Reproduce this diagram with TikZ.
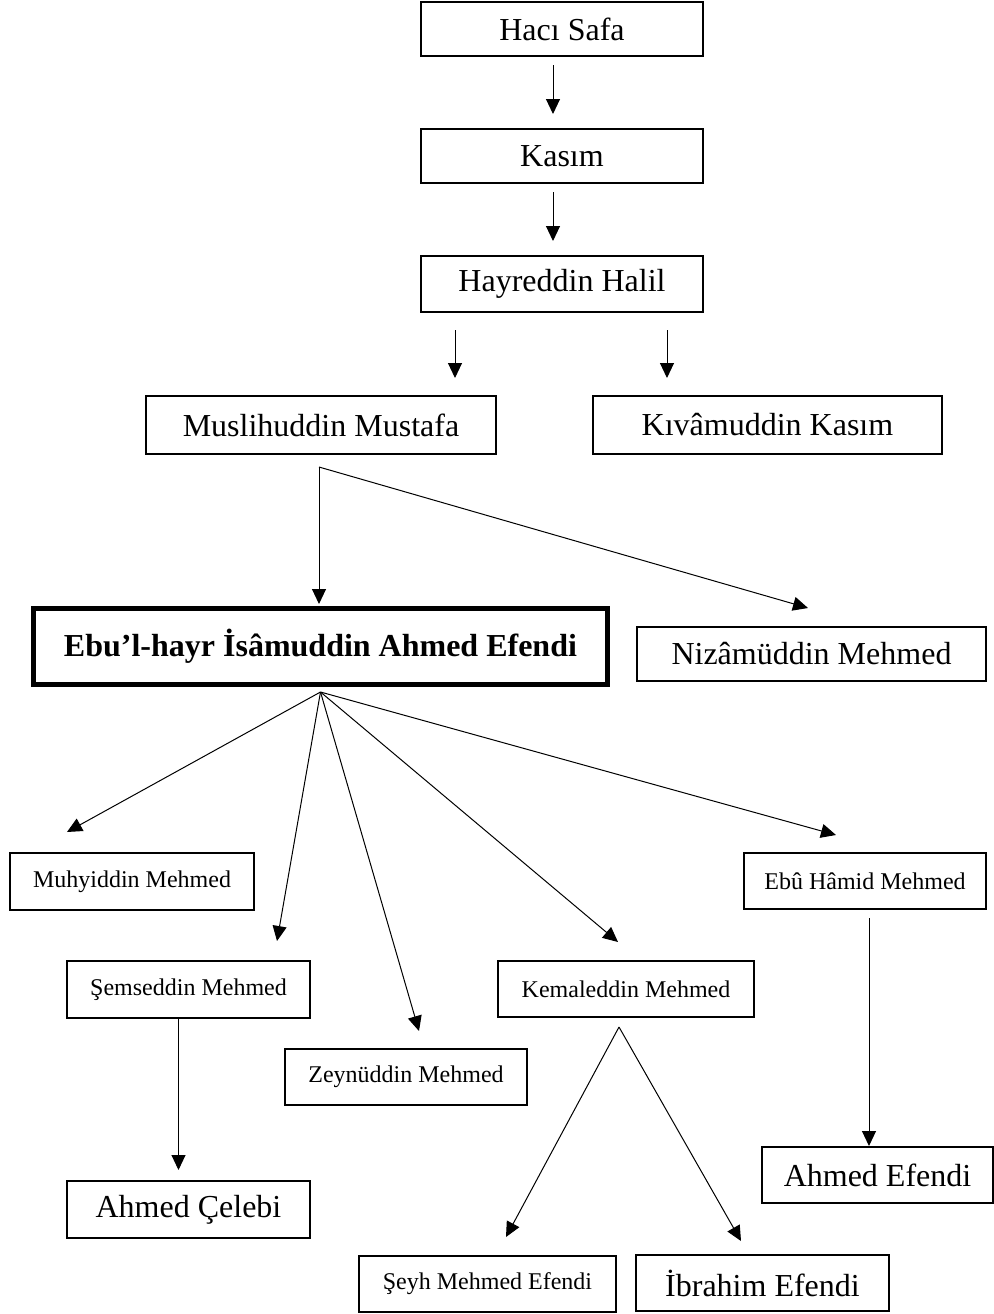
\documentclass[tikz,border=0pt]{standalone}
\usepackage{fontspec}
\setmainfont{Liberation Serif}
\usetikzlibrary{arrows.meta}
\newcommand{\buyuk}{\fontsize{16pt}{19pt}\selectfont}
\newcommand{\kucuk}{\fontsize{12pt}{14pt}\selectfont}

\begin{document}
\begin{tikzpicture}[x=0.5pt,y=-0.5pt,
  kutu/.style={draw,line width=1pt,inner sep=0pt,align=center},
  ok/.style={line width=0.5pt,-{Triangle[length=7.5pt,width=7pt]}}]
\useasboundingbox (0,0) rectangle (994,1314);
%draw the top line of boxes
\node[kutu,font=\buyuk,minimum width=141pt,minimum height=27pt] (hac) at (562,29) {Hacı Safa};
\node[kutu,font=\buyuk,minimum width=141pt,minimum height=27pt] (kas) at (562,156) {Kasım};
\node[kutu,font=\buyuk,minimum width=141pt,minimum height=28pt] (hay) at (562,284) {Hayreddin Halil};
\node[kutu,font=\buyuk,minimum width=175pt,minimum height=29pt] (mus) at (321,425) {Muslihuddin Mustafa};
\node[kutu,font=\buyuk,minimum width=174.5pt,minimum height=29pt] (kiv) at (767.5,425) {Kıvâmuddin Kasım};
%the main person, thick border
\node[kutu,line width=2.5pt,font=\buyuk\bfseries,minimum width=287pt,minimum height=38pt] (ebu) at (320.5,646.5) {Ebu’l-hayr İsâmuddin Ahmed Efendi};
\node[kutu,font=\buyuk,minimum width=174.5pt,minimum height=27pt] (niz) at (811.5,654) {Nizâmüddin Mehmed};
%sons
\node[kutu,font=\kucuk,minimum width=122pt,minimum height=28.5pt] (muh) at (132,881.5) {Muhyiddin Mehmed};
\node[kutu,font=\kucuk,minimum width=121pt,minimum height=28pt] (ebh) at (865,881) {Ebû Hâmid Mehmed};
\node[kutu,font=\kucuk,minimum width=121.5pt,minimum height=28.5pt] (sem) at (188.5,989.5) {Şemseddin Mehmed};
\node[kutu,font=\kucuk,minimum width=128pt,minimum height=28pt] (kem) at (626,989) {Kemaleddin Mehmed};
\node[kutu,font=\kucuk,minimum width=121pt,minimum height=28pt] (zey) at (406,1077) {Zeynüddin Mehmed};
%grandsons
\node[kutu,font=\buyuk,minimum width=121.5pt,minimum height=28.5pt] (cel) at (188.5,1209.5) {Ahmed Çelebi};
\node[kutu,font=\buyuk,minimum width=115.5pt,minimum height=28pt] (ahe) at (877.5,1175) {Ahmed Efendi};
\node[kutu,font=\kucuk,minimum width=128.5pt,minimum height=28pt] (sey) at (487.5,1284) {Şeyh Mehmed Efendi};
\node[kutu,font=\buyuk,minimum width=126.5pt,minimum height=28pt] (ibr) at (762.5,1283) {İbrahim Efendi};
%fork points
\coordinate (musfork) at ([xshift=-1pt,yshift=-6pt]mus.south);
\coordinate (ebufork) at ([yshift=-2.5pt]ebu.south);
\coordinate (kemfork) at ([xshift=-3.5pt,yshift=-4.5pt]kem.south);
%arrows
\draw[ok] ([xshift=-4.5pt,yshift=-4pt]hac.south) -- ([xshift=-4.5pt,yshift=7pt]kas.north);
\draw[ok] ([xshift=-4.5pt,yshift=-4pt]kas.south) -- ([xshift=-4.5pt,yshift=7pt]hay.north);
\draw[ok] ([xshift=-53.5pt,yshift=-8.5pt]hay.south) -- ([xshift=67pt,yshift=8.5pt]mus.north);
\draw[ok] ([xshift=52.5pt,yshift=-8.5pt]hay.south) -- ([xshift=-50.25pt,yshift=8.5pt]kiv.north);
\draw[ok] (musfork) -- ([xshift=-0.75pt,yshift=1pt]ebu.north);
\draw[ok] (musfork) -- ([xshift=-1.75pt,yshift=9pt]niz.north);
\draw[ok] (ebufork) -- ([xshift=-32.5pt,yshift=10pt]muh.north);
\draw[ok] (ebufork) -- ([xshift=44.25pt,yshift=9.5pt]sem.north);
\draw[ok] (ebufork) -- ([xshift=6.5pt,yshift=8.5pt]zey.north);
\draw[ok] (ebufork) -- ([xshift=-4pt,yshift=9pt]kem.north);
\draw[ok] (ebufork) -- ([xshift=-14.5pt,yshift=8.5pt]ebh.north);
\draw[ok] ([xshift=-5pt]sem.south) -- ([xshift=-5pt,yshift=5pt]cel.north);
\draw[ok] (kemfork) -- ([xshift=9.25pt,yshift=9pt]sey.north);
\draw[ok] (kemfork) -- ([xshift=-10.75pt,yshift=6.5pt]ibr.north);
\draw[ok] ([xshift=2pt,yshift=-4pt]ebh.south) -- ([xshift=-4.25pt]ahe.north);
\end{tikzpicture}
\end{document}
